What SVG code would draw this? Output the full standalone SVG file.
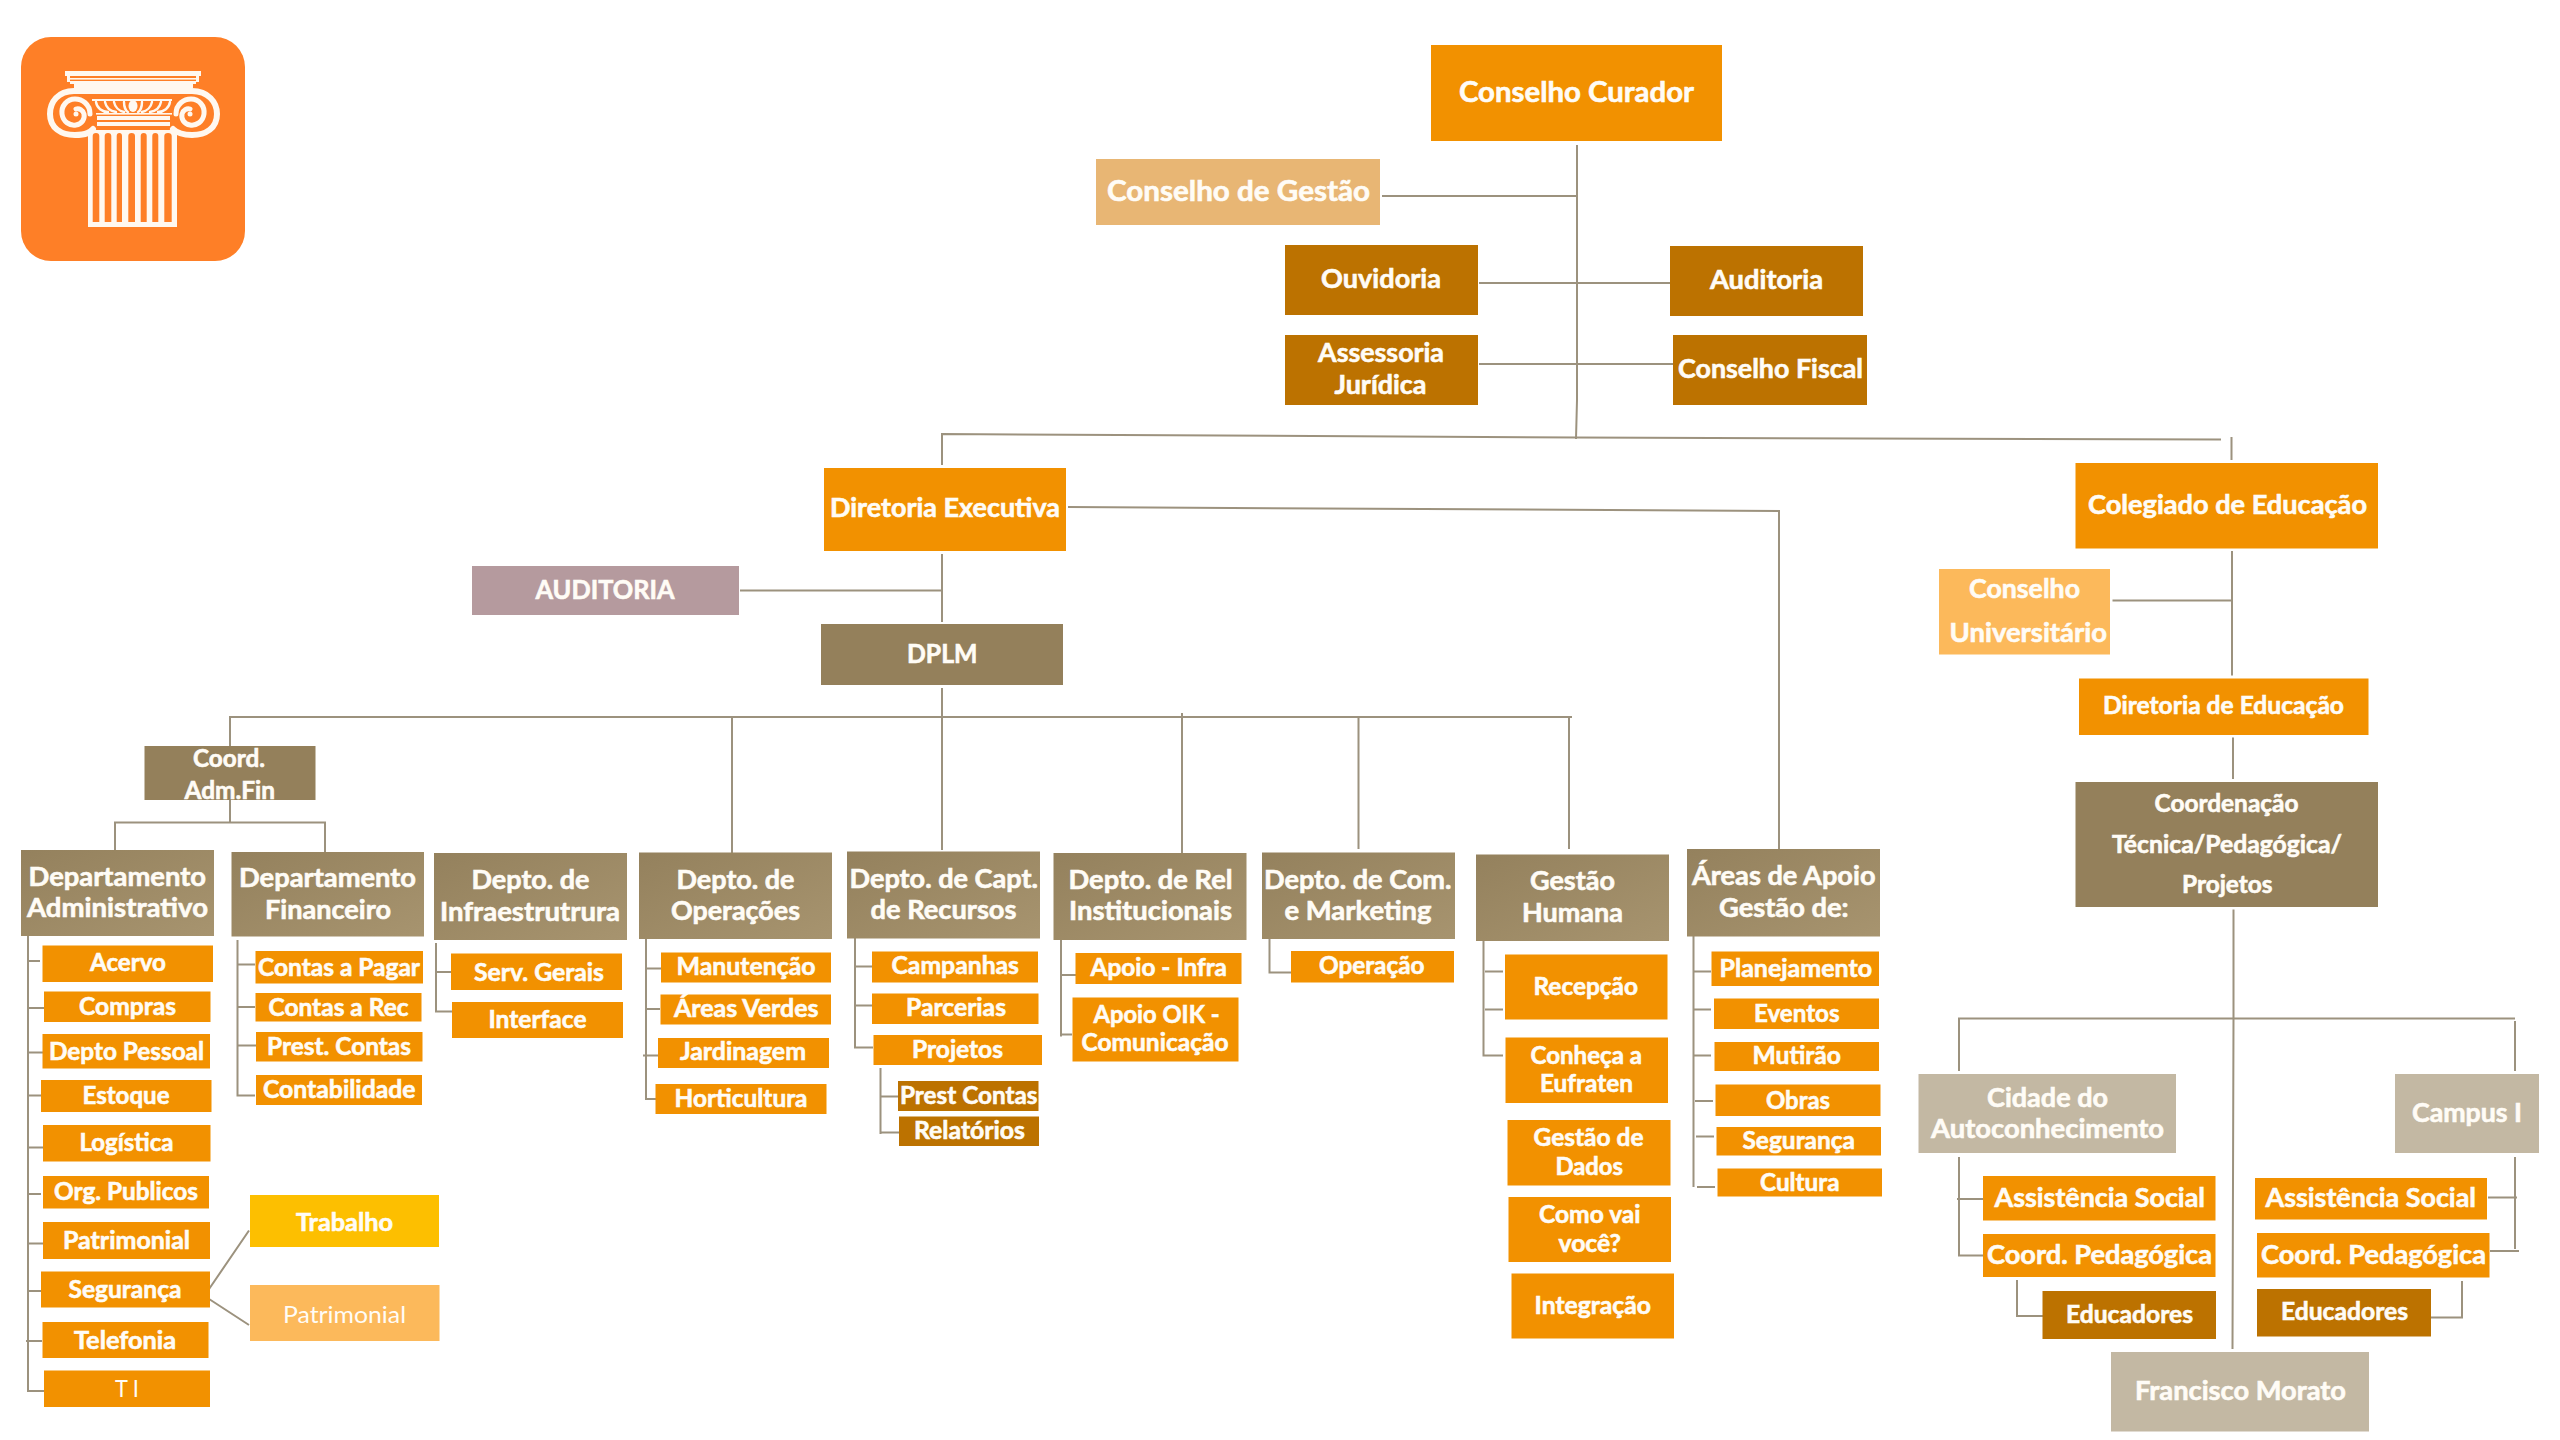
<svg xmlns="http://www.w3.org/2000/svg" width="2560" height="1440" viewBox="0 0 2560 1440">
<defs>
<style>
text{font-family:Lato,"Open Sans","Liberation Sans",sans-serif;font-weight:700;fill:#fffcf6;stroke:#fffcf6;stroke-width:.6px;font-size:24px}
.l{font-size:28px}.m{font-size:26px}
.lgt{font-weight:400;stroke:none}
.o{fill:#f29100}.d{fill:#bc7200}.b{fill:#94805b}.h{fill:url(#hg)}.t{fill:#c3b8a3}
.g{fill:#e8b674}.a{fill:#b59a9e}.u{fill:#fcb95b}.y{fill:#fdbf00}
#connectors path{fill:none;stroke:#9c927e;stroke-width:2}
.lw{fill:#fff8f0}
.ls{fill:none;stroke:#fff8f0;stroke-linecap:round}
</style>
<linearGradient id="hg" x1="0" y1="0" x2="1" y2="1"><stop offset="0" stop-color="#94815d"/><stop offset="1" stop-color="#a7946f"/></linearGradient>
</defs>
<rect width="2560" height="1440" fill="#ffffff"/>
<g id="logo">
<rect x="21" y="37" width="224" height="224" rx="30" fill="#fe7f27"/>
<rect class="lw" x="65" y="71" width="136" height="5"/>
<rect class="lw" x="67" y="76" width="3" height="6"/><rect class="lw" x="196" y="76" width="3" height="6"/>
<rect class="lw" x="70" y="78" width="126" height="1.6"/><rect class="lw" x="70" y="81" width="126" height="3"/>
<rect class="lw" x="74" y="84" width="119" height="4"/>
<path class="ls" stroke-width="6" d="M192 91H74C58 91 50 102 50 114C50 128 61 135 75 135C87 135 90 132 93 129M74 91H192C208 91 217 102 217 114C217 128 206 135 192 135C180 135 176 132 173 129"/>
<path class="ls" stroke-width="5" d="M90 114C90 104 82 99 75 99C67 99 61 106 62 114C63 122 70 126 76 125C82 124 85 119 84 114C83 110 79 108 76 109"/>
<path class="ls" stroke-width="5" d="M176 114C176 104 184 99 191 99C199 99 205 106 204 114C203 122 196 126 190 125C184 124 181 119 182 114C183 110 187 108 190 109"/>
<circle class="lw" cx="76" cy="114" r="2.5"/><circle class="lw" cx="190" cy="114" r="2.5"/>
<rect class="lw" x="92" y="99" width="80" height="2"/>
<path class="ls" stroke-width="2.4" d="M96 102C97 108 102 112 108 112M105 102C106 107 110 111 116 112M114 102C115 107 119 111 124 112M124 102C124 107 126 111 128 112M170 102C169 108 164 112 158 112M161 102C160 107 156 111 150 112M152 102C151 107 147 111 142 112M142 102C142 107 140 111 138 112"/>
<ellipse class="lw" cx="133" cy="106" rx="4.5" ry="6"/>
<rect class="lw" x="96" y="113" width="76" height="1.6"/>
<rect class="lw" x="97" y="116" width="73" height="4"/><rect class="lw" x="97" y="122" width="73" height="4"/>
<path class="lw" fill-rule="evenodd" d="M88 130H177V227H88ZM92.700 136Q92.700 133 96 133Q99.300 133 99.300 136V222H92.700ZM104.700 136Q104.700 133 108 133Q111.300 133 111.300 136V222H104.700ZM116.700 136Q116.700 133 119.400 133Q122 133 122 136V222H116.700ZM128.300 136Q128.300 133 131.600 133Q135 133 135 136V222H128.300ZM140.700 136Q140.700 133 143.700 133Q146.700 133 146.700 136V222H140.700ZM152.300 136Q152.300 133 155.300 133Q158.300 133 158.300 136V222H152.300ZM164.300 136Q164.300 133 168 133Q171.700 133 171.700 136V222H164.300Z"/>
</g>
<g id="connectors">
<path d="M1577 145V400L1576 439"/>
<path d="M1382 196H1577M1479 283H1670M1479 364H1673"/>
<path d="M942 465V434L1576 437.500L2221 439.500M2231.500 437V460"/>
<path d="M942 554V622M740 590.500H942"/>
<path d="M1068 507L1779 511V849"/>
<path d="M942 688V850M230 746V717H1572M732 717V863M1182 713V855M1358.500 717V849M1569 717V849"/>
<path d="M230 800V822.500M115 850V822.500H325V852"/>
<path d="M28 936V1391H44M28 961H40M28 1008H44M28 1052.500H43M28 1095.500H41M28 1147.500H43M28 1194H41M28 1243.500H43M27 1291H41M26 1341H42"/>
<path d="M237.500 940V1095.500H255M237.500 964.500H255M237.500 1007H255M237.500 1045.500H256"/>
<path d="M436 943V1011.500H452M436 972H451"/>
<path d="M206 1293.500L249 1230.500M206 1297L249 1325"/>
<path d="M646 939V1099H661M646 968.500H661M646 1009H660M643 1055.500H658"/>
<path d="M855 938V1047.500H873M855 966.500H872M855 1005.500H872"/>
<path d="M880.500 1068V1134M880.500 1096.500H898M880.500 1132.500H899"/>
<path d="M1061 940V1036.500M1061 975H1076M1061 1034.500H1072"/>
<path d="M1269.500 939V972.500H1291"/>
<path d="M1483.500 941V1055.500H1503M1485 971.500H1503M1485 1009.500H1503"/>
<path d="M1693.500 936V1187M1693.500 971.500H1711M1693.500 1009.500H1711M1693.500 1055.500H1711M1695 1101H1713M1696 1136.500H1714M1697 1187H1715"/>
<path d="M2232 551V675.500M2112.500 600.500H2232M2233 737.500V779"/>
<path d="M2233.500 909.500V1018.500L2232.500 1349"/>
<path d="M1959 1071V1018.500H2515M2515 1021V1071"/>
<path d="M1959 1157V1255.500H1983M1957 1199H1987"/>
<path d="M2017 1280V1316H2043"/>
<path d="M2515 1157V1249M2488 1197.500H2517M2490 1251H2519"/>
<path d="M2462 1281V1317.500H2431"/>
</g>
<g id="n-conselho-curador"><rect class="o" x="1431" y="45" width="291" height="96"/><text class="l" x="1459" y="102" textLength="235" lengthAdjust="spacingAndGlyphs">Conselho Curador</text></g>
<g id="n-conselho-gestao"><rect class="g" x="1096" y="159" width="284" height="66"/><text class="l" x="1107" y="200.500" textLength="263" lengthAdjust="spacingAndGlyphs">Conselho de Gestão</text></g>
<g id="n-ouvidoria"><rect class="d" x="1285" y="245" width="193" height="70"/><text class="m" x="1321" y="288" textLength="120" lengthAdjust="spacingAndGlyphs">Ouvidoria</text></g>
<g id="n-auditoria"><rect class="d" x="1670" y="246" width="193" height="70"/><text class="m" x="1710" y="289" textLength="113" lengthAdjust="spacingAndGlyphs">Auditoria</text></g>
<g id="n-assessoria"><rect class="d" x="1285" y="335" width="193" height="70"/><text class="m" x="1318" y="362" textLength="126" lengthAdjust="spacingAndGlyphs">Assessoria</text><text class="m" x="1334.500" y="394" textLength="92" lengthAdjust="spacingAndGlyphs">Jurídica</text></g>
<g id="n-conselho-fiscal"><rect class="d" x="1673" y="335" width="194" height="70"/><text class="m" x="1678" y="378" textLength="185" lengthAdjust="spacingAndGlyphs">Conselho Fiscal</text></g>
<g id="n-diretoria-executiva"><rect class="o" x="824" y="468" width="242" height="83"/><text class="m" x="830" y="517" textLength="230" lengthAdjust="spacingAndGlyphs">Diretoria Executiva</text></g>
<g id="n-auditoria-caps"><rect class="a" x="472" y="566" width="267" height="49"/><text class="m" x="535.500" y="599" textLength="139" lengthAdjust="spacingAndGlyphs">AUDITORIA</text></g>
<g id="n-dplm"><rect class="b" x="821" y="624" width="242" height="61"/><text class="m" x="907" y="662.500" textLength="70.500" lengthAdjust="spacingAndGlyphs">DPLM</text></g>
<g id="n-coord-adm"><rect class="b" x="144.500" y="746" width="171" height="54"/><text x="193" y="767" textLength="72" lengthAdjust="spacingAndGlyphs">Coord.</text><text x="184.500" y="799" textLength="90.500" lengthAdjust="spacingAndGlyphs">Adm.Fin</text></g>
<g id="n-dep-adm"><rect class="h" x="21" y="850" width="193" height="86"/><text class="m" x="28.500" y="885.500" textLength="177.500" lengthAdjust="spacingAndGlyphs">Departamento</text><text class="m" x="27" y="917" textLength="181" lengthAdjust="spacingAndGlyphs">Administrativo</text></g>
<g id="n-dep-fin"><rect class="h" x="231.500" y="852" width="192.500" height="84.500"/><text class="m" x="239" y="887" textLength="177" lengthAdjust="spacingAndGlyphs">Departamento</text><text class="m" x="265" y="918.500" textLength="126" lengthAdjust="spacingAndGlyphs">Financeiro</text></g>
<g id="n-dep-infra"><rect class="h" x="434" y="853" width="193" height="87"/><text class="m" x="471.500" y="889" textLength="118" lengthAdjust="spacingAndGlyphs">Depto. de</text><text class="m" x="440" y="920.500" textLength="180" lengthAdjust="spacingAndGlyphs">Infraestrutrura</text></g>
<g id="n-acervo"><rect class="o" x="42.500" y="945.500" width="170.500" height="36.500"/><text x="90" y="971" textLength="76" lengthAdjust="spacingAndGlyphs">Acervo</text></g>
<g id="n-compras"><rect class="o" x="44" y="991.500" width="166.500" height="30.500"/><text x="79" y="1014.500" textLength="97" lengthAdjust="spacingAndGlyphs">Compras</text></g>
<g id="n-depto-pessoal"><rect class="o" x="42.500" y="1034" width="167.500" height="34.500"/><text x="49" y="1059.500" textLength="155" lengthAdjust="spacingAndGlyphs">Depto Pessoal</text></g>
<g id="n-estoque"><rect class="o" x="41" y="1080" width="170.500" height="32"/><text x="82.500" y="1103.500" textLength="87" lengthAdjust="spacingAndGlyphs">Estoque</text></g>
<g id="n-logistica"><rect class="o" x="43" y="1125" width="167.500" height="36.500"/><text x="79.500" y="1151" textLength="94" lengthAdjust="spacingAndGlyphs">Logística</text></g>
<g id="n-org"><rect class="o" x="43" y="1176" width="166" height="32.500"/><text x="54" y="1200" textLength="144" lengthAdjust="spacingAndGlyphs">Org. Publicos</text></g>
<g id="n-patrimonial"><rect class="o" x="43" y="1222" width="167" height="37"/><text x="63" y="1248.500" textLength="127" lengthAdjust="spacingAndGlyphs">Patrimonial</text></g>
<g id="n-seguranca"><rect class="o" x="41" y="1271.500" width="169" height="36"/><text x="68.500" y="1298" textLength="113" lengthAdjust="spacingAndGlyphs">Segurança</text></g>
<g id="n-telefonia"><rect class="o" x="42.500" y="1322" width="166" height="36"/><text x="74" y="1349" textLength="102" lengthAdjust="spacingAndGlyphs">Telefonia</text></g>
<g id="n-ti"><rect class="o" x="44" y="1370.500" width="166" height="36.500"/><text class="lgt" x="115" y="1396.500" textLength="24" lengthAdjust="spacingAndGlyphs">T I</text></g>
<g id="n-contas-pagar"><rect class="o" x="255.500" y="951" width="167.500" height="32.500"/><text x="258" y="975.500" textLength="162" lengthAdjust="spacingAndGlyphs">Contas a Pagar</text></g>
<g id="n-contas-rec"><rect class="o" x="255.500" y="993" width="166" height="28.500"/><text x="268.500" y="1015.500" textLength="140" lengthAdjust="spacingAndGlyphs">Contas a Rec</text></g>
<g id="n-prest-contas"><rect class="o" x="256" y="1032" width="166.500" height="29.500"/><text x="267" y="1055" textLength="144" lengthAdjust="spacingAndGlyphs">Prest. Contas</text></g>
<g id="n-contabilidade"><rect class="o" x="256" y="1075" width="166" height="30"/><text x="263" y="1098" textLength="152.500" lengthAdjust="spacingAndGlyphs">Contabilidade</text></g>
<g id="n-serv-gerais"><rect class="o" x="451" y="953.500" width="171" height="36.500"/><text x="474" y="980.500" textLength="130" lengthAdjust="spacingAndGlyphs">Serv. Gerais</text></g>
<g id="n-interface"><rect class="o" x="452" y="1002" width="171" height="36"/><text x="488.500" y="1028" textLength="98" lengthAdjust="spacingAndGlyphs">Interface</text></g>
<g id="n-trabalho"><rect class="y" x="250" y="1195" width="189" height="52"/><text x="296" y="1230.500" textLength="97" lengthAdjust="spacingAndGlyphs">Trabalho</text></g>
<g id="n-patrimonial-2"><rect class="u" x="250" y="1285" width="189.500" height="56"/><text class="lgt" x="283" y="1323" textLength="123" lengthAdjust="spacingAndGlyphs">Patrimonial</text></g>
<g id="n-dep-op"><rect class="h" x="639" y="852.500" width="193" height="86.500"/><text class="m" x="676.500" y="888.500" textLength="118" lengthAdjust="spacingAndGlyphs">Depto. de</text><text class="m" x="671" y="919.500" textLength="129" lengthAdjust="spacingAndGlyphs">Operações</text></g>
<g id="n-dep-capt"><rect class="h" x="847" y="851.500" width="193" height="87"/><text class="m" x="849.500" y="887.500" textLength="188.500" lengthAdjust="spacingAndGlyphs">Depto. de Capt.</text><text class="m" x="870.500" y="918.500" textLength="146" lengthAdjust="spacingAndGlyphs">de Recursos</text></g>
<g id="n-dep-rel"><rect class="h" x="1053.500" y="853" width="193" height="87"/><text class="m" x="1068.500" y="889" textLength="164" lengthAdjust="spacingAndGlyphs">Depto. de Rel</text><text class="m" x="1069" y="920" textLength="163" lengthAdjust="spacingAndGlyphs">Institucionais</text></g>
<g id="n-dep-com"><rect class="h" x="1262" y="852.500" width="193" height="86.500"/><text class="m" x="1264" y="888.500" textLength="187.500" lengthAdjust="spacingAndGlyphs">Depto. de Com.</text><text class="m" x="1284.500" y="919.500" textLength="147" lengthAdjust="spacingAndGlyphs">e Marketing</text></g>
<g id="n-manutencao"><rect class="o" x="661" y="952.500" width="170" height="30"/><text x="676.500" y="975" textLength="139" lengthAdjust="spacingAndGlyphs">Manutenção</text></g>
<g id="n-areas-verdes"><rect class="o" x="660.500" y="994.500" width="170.500" height="30"/><text x="674" y="1016.500" textLength="144.500" lengthAdjust="spacingAndGlyphs">Áreas Verdes</text></g>
<g id="n-jardinagem"><rect class="o" x="658" y="1038" width="171" height="30"/><text x="680" y="1060" textLength="126" lengthAdjust="spacingAndGlyphs">Jardinagem</text></g>
<g id="n-horticultura"><rect class="o" x="655.500" y="1084" width="171" height="30"/><text x="674.500" y="1106.500" textLength="133" lengthAdjust="spacingAndGlyphs">Horticultura</text></g>
<g id="n-campanhas"><rect class="o" x="872" y="951.500" width="166" height="31"/><text x="891.500" y="974" textLength="127.500" lengthAdjust="spacingAndGlyphs">Campanhas</text></g>
<g id="n-parcerias"><rect class="o" x="872" y="993.500" width="166.500" height="30.500"/><text x="906" y="1016" textLength="100" lengthAdjust="spacingAndGlyphs">Parcerias</text></g>
<g id="n-projetos"><rect class="o" x="873.500" y="1035" width="168.500" height="30"/><text x="912" y="1057.500" textLength="91" lengthAdjust="spacingAndGlyphs">Projetos</text></g>
<g id="n-prest-contas-2"><rect class="d" x="898" y="1081" width="140.500" height="30"/><text x="900" y="1103.500" textLength="137.500" lengthAdjust="spacingAndGlyphs">Prest Contas</text></g>
<g id="n-relatorios"><rect class="d" x="899" y="1116.500" width="140" height="29.500"/><text x="914" y="1138.500" textLength="111" lengthAdjust="spacingAndGlyphs">Relatórios</text></g>
<g id="n-apoio-infra"><rect class="o" x="1075.500" y="953" width="166" height="31"/><text x="1090.500" y="975.500" textLength="136.500" lengthAdjust="spacingAndGlyphs">Apoio - Infra</text></g>
<g id="n-apoio-oik"><rect class="o" x="1072.500" y="997.500" width="166" height="64"/><text x="1093.500" y="1022.500" textLength="126" lengthAdjust="spacingAndGlyphs">Apoio OIK -</text><text x="1081.500" y="1051" textLength="147" lengthAdjust="spacingAndGlyphs">Comunicação</text></g>
<g id="n-operacao"><rect class="o" x="1291" y="951" width="163" height="31.500"/><text x="1319" y="974" textLength="105.500" lengthAdjust="spacingAndGlyphs">Operação</text></g>
<g id="n-gestao-humana"><rect class="h" x="1476" y="854.500" width="193" height="86.500"/><text class="m" x="1530" y="890" textLength="85" lengthAdjust="spacingAndGlyphs">Gestão</text><text class="m" x="1522" y="922" textLength="101" lengthAdjust="spacingAndGlyphs">Humana</text></g>
<g id="n-areas-apoio"><rect class="h" x="1687" y="849" width="193" height="87.500"/><text class="m" x="1692" y="884.500" textLength="183.500" lengthAdjust="spacingAndGlyphs">Áreas de Apoio</text><text class="m" x="1719" y="916.500" textLength="129.500" lengthAdjust="spacingAndGlyphs">Gestão de:</text></g>
<g id="n-recepcao"><rect class="o" x="1505" y="954.500" width="162.500" height="65"/><text x="1533.500" y="995" textLength="104.500" lengthAdjust="spacingAndGlyphs">Recepção</text></g>
<g id="n-conheca"><rect class="o" x="1505.500" y="1037.500" width="162.500" height="65.500"/><text x="1530.500" y="1064" textLength="111.500" lengthAdjust="spacingAndGlyphs">Conheça a</text><text x="1540" y="1092" textLength="93" lengthAdjust="spacingAndGlyphs">Eufraten</text></g>
<g id="n-gestao-dados"><rect class="o" x="1507.500" y="1120" width="163" height="65.500"/><text x="1533.500" y="1146" textLength="110" lengthAdjust="spacingAndGlyphs">Gestão de</text><text x="1555.500" y="1174.500" textLength="67.500" lengthAdjust="spacingAndGlyphs">Dados</text></g>
<g id="n-como-vai"><rect class="o" x="1508.500" y="1197" width="162.500" height="65"/><text x="1539" y="1223" textLength="101.500" lengthAdjust="spacingAndGlyphs">Como vai</text><text x="1558.500" y="1251.500" textLength="62.500" lengthAdjust="spacingAndGlyphs">você?</text></g>
<g id="n-integracao"><rect class="o" x="1511.500" y="1273.500" width="162.500" height="65"/><text x="1534.500" y="1314" textLength="116.500" lengthAdjust="spacingAndGlyphs">Integração</text></g>
<g id="n-planejamento"><rect class="o" x="1711.500" y="951.500" width="167.500" height="34.500"/><text x="1719.500" y="976.500" textLength="152.500" lengthAdjust="spacingAndGlyphs">Planejamento</text></g>
<g id="n-eventos"><rect class="o" x="1714" y="998.500" width="165" height="30.500"/><text x="1754" y="1021.500" textLength="85.500" lengthAdjust="spacingAndGlyphs">Eventos</text></g>
<g id="n-mutirao"><rect class="o" x="1714.500" y="1042" width="164.500" height="29"/><text x="1752.500" y="1064" textLength="88.500" lengthAdjust="spacingAndGlyphs">Mutirão</text></g>
<g id="n-obras"><rect class="o" x="1715.500" y="1084.500" width="165" height="31.500"/><text x="1766" y="1108.500" textLength="64" lengthAdjust="spacingAndGlyphs">Obras</text></g>
<g id="n-seguranca-2"><rect class="o" x="1716.500" y="1127" width="164.500" height="28.500"/><text x="1742.500" y="1149" textLength="112.500" lengthAdjust="spacingAndGlyphs">Segurança</text></g>
<g id="n-cultura"><rect class="o" x="1717.500" y="1168.500" width="164.500" height="28"/><text x="1760" y="1190.500" textLength="79.500" lengthAdjust="spacingAndGlyphs">Cultura</text></g>
<g id="n-colegiado"><rect class="o" x="2075.500" y="463" width="302.500" height="85.500"/><text class="m" x="2088" y="513.500" textLength="279" lengthAdjust="spacingAndGlyphs">Colegiado de Educação</text></g>
<g id="n-conselho-univ"><rect class="u" x="1939" y="569" width="171" height="85.500"/><text class="m" x="1969" y="598" textLength="111" lengthAdjust="spacingAndGlyphs">Conselho</text><text class="m" x="1949.500" y="641.500" textLength="157.500" lengthAdjust="spacingAndGlyphs">Universitário</text></g>
<g id="n-dir-educacao"><rect class="o" x="2079" y="678.500" width="289.500" height="56.500"/><text x="2103" y="714" textLength="241" lengthAdjust="spacingAndGlyphs">Diretoria de Educação</text></g>
<g id="n-coordenacao"><rect class="b" x="2075.500" y="782" width="302.500" height="125"/><text x="2154.500" y="812" textLength="144" lengthAdjust="spacingAndGlyphs">Coordenação</text><text x="2112" y="852.500" textLength="230" lengthAdjust="spacingAndGlyphs">Técnica/Pedagógica/</text><text x="2182" y="892.500" textLength="90.500" lengthAdjust="spacingAndGlyphs">Projetos</text></g>
<g id="n-cidade"><rect class="t" x="1918.500" y="1074" width="257.500" height="79"/><text class="m" x="1987" y="1106.500" textLength="121" lengthAdjust="spacingAndGlyphs">Cidade do</text><text class="m" x="1931" y="1137.500" textLength="233" lengthAdjust="spacingAndGlyphs">Autoconhecimento</text></g>
<g id="n-campus"><rect class="t" x="2395" y="1074" width="144" height="79"/><text class="m" x="2412" y="1121.500" textLength="110" lengthAdjust="spacingAndGlyphs">Campus I</text></g>
<g id="n-assist-l"><rect class="o" x="1983" y="1176" width="232.500" height="44.500"/><text class="m" x="1994.500" y="1206.500" textLength="210.500" lengthAdjust="spacingAndGlyphs">Assistência Social</text></g>
<g id="n-coord-l"><rect class="o" x="1983" y="1234" width="232.500" height="43"/><text class="m" x="1987" y="1264" textLength="225" lengthAdjust="spacingAndGlyphs">Coord. Pedagógica</text></g>
<g id="n-educ-l"><rect class="d" x="2042.500" y="1291" width="173.500" height="48"/><text x="2066" y="1322.500" textLength="127" lengthAdjust="spacingAndGlyphs">Educadores</text></g>
<g id="n-assist-r"><rect class="o" x="2255" y="1178" width="232" height="41.500"/><text class="m" x="2265.500" y="1206.500" textLength="210.500" lengthAdjust="spacingAndGlyphs">Assistência Social</text></g>
<g id="n-coord-r"><rect class="o" x="2257" y="1233" width="232.500" height="44.500"/><text class="m" x="2261" y="1263.500" textLength="225" lengthAdjust="spacingAndGlyphs">Coord. Pedagógica</text></g>
<g id="n-educ-r"><rect class="d" x="2257" y="1289" width="174" height="47.500"/><text x="2281" y="1320" textLength="127" lengthAdjust="spacingAndGlyphs">Educadores</text></g>
<g id="n-francisco"><rect class="t" x="2111" y="1352" width="258" height="79.500"/><text class="m" x="2135" y="1400" textLength="211" lengthAdjust="spacingAndGlyphs">Francisco Morato</text></g>
</svg>
